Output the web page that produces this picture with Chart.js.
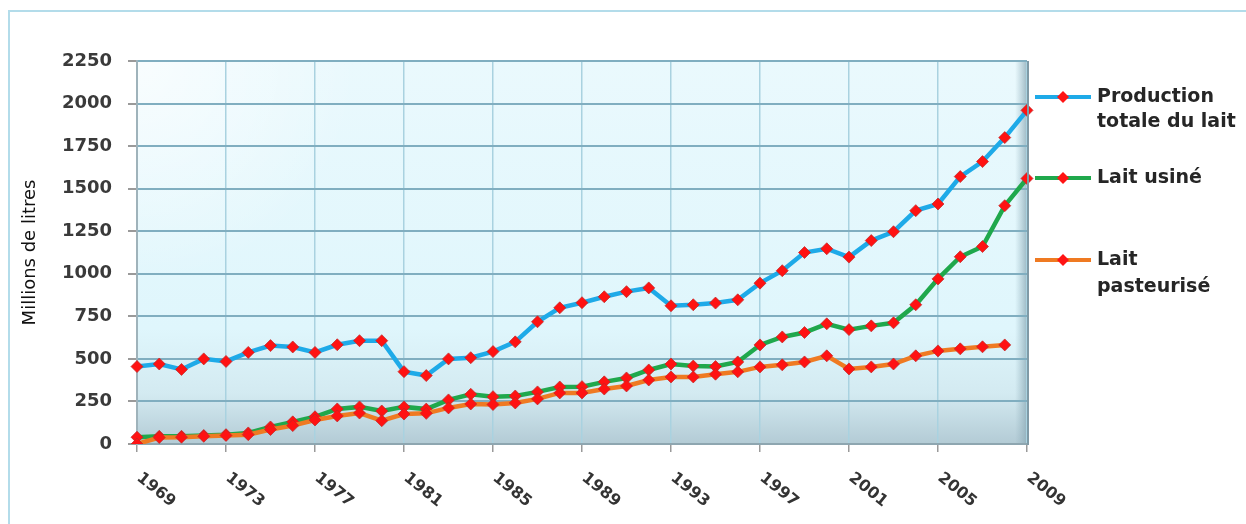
<!DOCTYPE html>
<html>
<head>
<meta charset="utf-8">
<script src="https://cdn.jsdelivr.net/npm/chart.js@4"></script>
<style>
  html, body { margin: 0; padding: 0; background: #ffffff; }
  #wrap { position: relative; width: 1246px; height: 524px; }
</style>
</head>
<body>
<div id="wrap"><canvas id="laitChart" width="1246" height="524"></canvas></div>
<script>
// Data (millions de litres)
var years = [];
for (var y = 1969; y <= 2009; y++) years.push(String(y));

var production = [455, 470, 438, 500, 485, 538, 578, 570, 538, 583, 607, 607,
  425, 402, 500, 507, 543, 600, 718, 800, 830, 865, 895, 917,
  812, 818, 828, 847, 945, 1018, 1125, 1147, 1098, 1195, 1247, 1371, 1410,
  1571, 1659, 1800, 1960];
var usine = [40, 45, 45, 50, 55, 65, 100, 130, 160, 206, 218, 194,
  218, 205, 259, 292, 278, 282, 306, 335, 337, 365, 388, 435,
  470, 458, 455, 482, 582, 629, 655, 706, 672, 694, 712, 818, 970,
  1100, 1160, 1400, 1560];
var pasteurise = [0, 38, 40, 45, 50, 55, 85, 108, 141, 165, 182, 137,
  176, 180, 212, 235, 232, 241, 265, 300, 300, 323, 341, 376,
  394, 394, 410, 424, 453, 465, 482, 518, 441, 453, 470, 518, 547,
  559, 571, 582, null];

var seriesNames = [["Production", "totale du lait"], ["Lait usiné"], ["Lait", "pasteurisé"]];
var seriesColors = ["#1eaae8", "#1fa84c", "#ef7a22"];
var labelEvery = 4;

var CHART_LEFT = 137, CHART_RIGHT = 1027, CHART_TOP = 61, CHART_BOTTOM = 444;

// Plot wall: light cyan gradient, darker floor and right side
var wallPlugin = {
  id: 'wall',
  beforeDraw: function(chart) {
    var ctx = chart.ctx, a = chart.chartArea;
    ctx.save();
    // outer frame (top and left)
    ctx.strokeStyle = '#b3dcea';
    ctx.lineWidth = 2;
    ctx.beginPath();
    ctx.moveTo(9, 524);
    ctx.lineTo(9, 11);
    ctx.lineTo(1246, 11);
    ctx.stroke();

    var g = ctx.createLinearGradient(0, a.top, 0, a.bottom);
    g.addColorStop(0, '#eaf9fd');
    g.addColorStop(0.7, '#dff6fc');
    g.addColorStop(0.87, '#d3eaf1');
    g.addColorStop(1, '#b3cbd5');
    ctx.fillStyle = g;
    ctx.fillRect(a.left, a.top, a.right - a.left, a.bottom - a.top);

    // soft highlight in the top-left corner of the wall
    var h = ctx.createRadialGradient(a.left, a.top, 0, a.left, a.top, 220);
    h.addColorStop(0, 'rgba(255,255,255,0.7)');
    h.addColorStop(1, 'rgba(255,255,255,0)');
    ctx.fillStyle = h;
    ctx.fillRect(a.left, a.top, 230, 230);

    // right side shading
    var r = ctx.createLinearGradient(a.right - 12, 0, a.right, 0);
    r.addColorStop(0, 'rgba(150,180,192,0)');
    r.addColorStop(1, 'rgba(140,170,182,0.8)');
    ctx.fillStyle = r;
    ctx.fillRect(a.right - 12, a.top, 12, a.bottom - a.top);
    ctx.restore();
  },
  afterDatasetsDraw: function(chart) {
    var ctx = chart.ctx, a = chart.chartArea;
    ctx.save();
    ctx.strokeStyle = '#7f9aa6';
    ctx.lineWidth = 2;
    ctx.beginPath();
    ctx.moveTo(a.right + 1, a.top);
    ctx.lineTo(a.right + 1, a.bottom + 1);
    ctx.stroke();
    ctx.restore();
  }
};

// Year labels, slanted down to the right
var yearLabelsPlugin = {
  id: 'yearLabels',
  afterDraw: function(chart) {
    var ctx = chart.ctx, xs = chart.scales.x;
    ctx.save();
    ctx.font = 'bold 16px "DejaVu Sans"';
    ctx.fillStyle = '#333333';
    ctx.textAlign = 'center';
    ctx.textBaseline = 'middle';
    for (var i = 0; i < years.length; i += labelEvery) {
      var x = xs.getPixelForValue(i);
      ctx.save();
      ctx.translate(x + 19, 490);
      ctx.rotate(39 * Math.PI / 180);
      ctx.fillText(years[i], 0, 0);
      ctx.restore();
    }
    ctx.restore();
  }
};

// Legend on the right, two-line labels
var legendPlugin = {
  id: 'sideLegend',
  afterDraw: function(chart) {
    var ctx = chart.ctx;
    var rows = [[97, 122], [178], [260, 287]];
    ctx.save();
    for (var s = 0; s < seriesNames.length; s++) {
      var yLine = rows[s][0];
      ctx.strokeStyle = seriesColors[s];
      ctx.lineWidth = 4;
      ctx.beginPath();
      ctx.moveTo(1035, yLine);
      ctx.lineTo(1091, yLine);
      ctx.stroke();
      ctx.fillStyle = '#ff1414';
      ctx.beginPath();
      ctx.moveTo(1063, yLine - 6);
      ctx.lineTo(1069, yLine);
      ctx.lineTo(1063, yLine + 6);
      ctx.lineTo(1057, yLine);
      ctx.closePath();
      ctx.fill();
      ctx.font = 'bold 19px "DejaVu Sans"';
      ctx.fillStyle = '#262626';
      ctx.textAlign = 'left';
      ctx.textBaseline = 'middle';
      for (var k = 0; k < seriesNames[s].length; k++) {
        ctx.fillText(seriesNames[s][k], 1097, rows[s][k]);
      }
    }
    ctx.restore();
  }
};

function makeSet(i, data) {
  return {
    label: seriesNames[i].join(' '),
    data: data,
    borderColor: seriesColors[i],
    backgroundColor: seriesColors[i],
    borderWidth: 4.5,
    tension: 0,
    pointStyle: 'rectRot',
    pointRadius: 6,
    pointBackgroundColor: '#ff1212',
    pointBorderColor: 'rgba(190,40,40,0.7)',
    pointBorderWidth: 1,
    order: 3 - i
  };
}

var ctx = document.getElementById('laitChart');
var laitChart = new Chart(ctx, {
  type: 'line',
  data: {
    labels: years,
    datasets: [makeSet(0, production), makeSet(1, usine), makeSet(2, pasteurise)]
  },
  options: {
    responsive: false,
    animation: false,
    events: [],
    layout: { padding: { top: CHART_TOP, right: 1246 - CHART_RIGHT, left: 0, bottom: 0 } },
    plugins: { legend: { display: false }, tooltip: { enabled: false } },
    scales: {
      x: {
        type: 'category',
        offset: false,
        ticks: { display: false, autoSkip: false },
        grid: {
          color: function(c) { return (c.index % labelEvery === 0) ? '#a9d2e0' : 'rgba(0,0,0,0)'; },
          tickColor: function(c) { return (c.index % labelEvery === 0) ? '#9a9a9a' : 'rgba(0,0,0,0)'; },
          lineWidth: 1.5,
          tickLength: 8
        },
        border: { color: '#8ea6b0', width: 2 },
        afterFit: function(scale) { scale.height = 524 - CHART_BOTTOM; }
      },
      y: {
        min: 0,
        max: 2250,
        ticks: {
          stepSize: 250,
          padding: 16,
          color: '#3a3a3a',
          font: { family: '"DejaVu Sans"', weight: 'bold', size: 18 },
          callback: function(v) { return String(v); }
        },
        grid: {
          color: '#80aec0',
          lineWidth: 2,
          tickColor: '#9a9a9a',
          tickLength: 9
        },
        border: { color: '#9fb3bb', width: 2 },
        title: {
          display: true,
          text: 'Millions de litres',
          color: '#111111',
          font: { family: '"DejaVu Sans"', size: 18 },
          padding: { top: 20, bottom: 0 }
        },
        afterFit: function(scale) { scale.width = CHART_LEFT; }
      }
    }
  },
  plugins: [wallPlugin, yearLabelsPlugin, legendPlugin]
});
</script>
</body>
</html>
